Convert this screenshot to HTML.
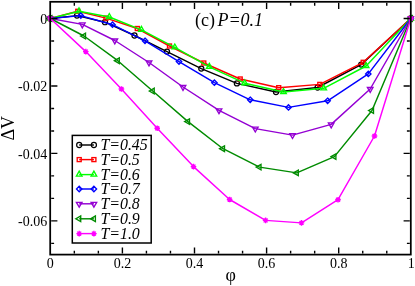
<!DOCTYPE html>
<html><head><meta charset="utf-8"><title>chart</title>
<style>
html,body{margin:0;padding:0;background:#fff;}
body{width:415px;height:286px;overflow:hidden;}
svg{display:block;will-change:transform;}
text{font-family:"Liberation Serif",serif;fill:#000;}
</style></head><body>
<svg width="415" height="286" viewBox="0 0 415 286">
<rect x="0" y="0" width="415" height="286" fill="#ffffff"/>

<path d="M50.30,18.50 L77.00,15.60 L105.00,22.20 L134.50,35.50 L167.00,51.60 L201.30,68.60 L236.90,83.40 L276.00,92.00 L317.60,87.50 L361.20,64.60 L410.80,18.50" fill="none" stroke="#000000" stroke-width="1.45" stroke-linejoin="round"/>
<circle cx="50.30" cy="18.50" r="2.55" fill="none" stroke="#000000" stroke-width="1.2"/>
<circle cx="77.00" cy="15.60" r="2.55" fill="none" stroke="#000000" stroke-width="1.2"/>
<circle cx="105.00" cy="22.20" r="2.55" fill="none" stroke="#000000" stroke-width="1.2"/>
<circle cx="134.50" cy="35.50" r="2.55" fill="none" stroke="#000000" stroke-width="1.2"/>
<circle cx="167.00" cy="51.60" r="2.55" fill="none" stroke="#000000" stroke-width="1.2"/>
<circle cx="201.30" cy="68.60" r="2.55" fill="none" stroke="#000000" stroke-width="1.2"/>
<circle cx="236.90" cy="83.40" r="2.55" fill="none" stroke="#000000" stroke-width="1.2"/>
<circle cx="276.00" cy="92.00" r="2.55" fill="none" stroke="#000000" stroke-width="1.2"/>
<circle cx="317.60" cy="87.50" r="2.55" fill="none" stroke="#000000" stroke-width="1.2"/>
<circle cx="361.20" cy="64.60" r="2.55" fill="none" stroke="#000000" stroke-width="1.2"/>
<circle cx="410.80" cy="18.50" r="2.55" fill="none" stroke="#000000" stroke-width="1.2"/>
<path d="M50.30,18.50 L77.80,11.30 L106.00,18.10 L137.30,28.50 L169.50,46.00 L203.80,63.00 L240.20,79.00 L278.70,87.70 L319.80,84.40 L363.20,62.30 L410.80,18.50" fill="none" stroke="#ff0000" stroke-width="1.45" stroke-linejoin="round"/>
<rect x="48.30" y="16.50" width="4.0" height="4.0" fill="none" stroke="#ff0000" stroke-width="1.35"/>
<rect x="75.80" y="9.30" width="4.0" height="4.0" fill="none" stroke="#ff0000" stroke-width="1.35"/>
<rect x="104.00" y="16.10" width="4.0" height="4.0" fill="none" stroke="#ff0000" stroke-width="1.35"/>
<rect x="135.30" y="26.50" width="4.0" height="4.0" fill="none" stroke="#ff0000" stroke-width="1.35"/>
<rect x="167.50" y="44.00" width="4.0" height="4.0" fill="none" stroke="#ff0000" stroke-width="1.35"/>
<rect x="201.80" y="61.00" width="4.0" height="4.0" fill="none" stroke="#ff0000" stroke-width="1.35"/>
<rect x="238.20" y="77.00" width="4.0" height="4.0" fill="none" stroke="#ff0000" stroke-width="1.35"/>
<rect x="276.70" y="85.70" width="4.0" height="4.0" fill="none" stroke="#ff0000" stroke-width="1.35"/>
<rect x="317.80" y="82.40" width="4.0" height="4.0" fill="none" stroke="#ff0000" stroke-width="1.35"/>
<rect x="361.20" y="60.30" width="4.0" height="4.0" fill="none" stroke="#ff0000" stroke-width="1.35"/>
<rect x="408.80" y="16.50" width="4.0" height="4.0" fill="none" stroke="#ff0000" stroke-width="1.35"/>
<path d="M50.30,18.50 L79.00,11.30 L109.30,17.00 L141.40,29.80 L174.80,47.40 L209.30,66.80 L244.70,83.20 L283.50,92.00 L323.70,88.30 L366.10,66.00 L410.80,18.50" fill="none" stroke="#00ff00" stroke-width="1.45" stroke-linejoin="round"/>
<path d="M50.30,15.10 L53.10,20.00 L47.50,20.00 Z" fill="none" stroke="#00ff00" stroke-width="1.35"/>
<path d="M79.00,7.90 L81.80,12.80 L76.20,12.80 Z" fill="none" stroke="#00ff00" stroke-width="1.35"/>
<path d="M109.30,13.60 L112.10,18.50 L106.50,18.50 Z" fill="none" stroke="#00ff00" stroke-width="1.35"/>
<path d="M141.40,26.40 L144.20,31.30 L138.60,31.30 Z" fill="none" stroke="#00ff00" stroke-width="1.35"/>
<path d="M174.80,44.00 L177.60,48.90 L172.00,48.90 Z" fill="none" stroke="#00ff00" stroke-width="1.35"/>
<path d="M209.30,63.40 L212.10,68.30 L206.50,68.30 Z" fill="none" stroke="#00ff00" stroke-width="1.35"/>
<path d="M244.70,79.80 L247.50,84.70 L241.90,84.70 Z" fill="none" stroke="#00ff00" stroke-width="1.35"/>
<path d="M283.50,88.60 L286.30,93.50 L280.70,93.50 Z" fill="none" stroke="#00ff00" stroke-width="1.35"/>
<path d="M323.70,84.90 L326.50,89.80 L320.90,89.80 Z" fill="none" stroke="#00ff00" stroke-width="1.35"/>
<path d="M366.10,62.60 L368.90,67.50 L363.30,67.50 Z" fill="none" stroke="#00ff00" stroke-width="1.35"/>
<path d="M410.80,15.10 L413.60,20.00 L408.00,20.00 Z" fill="none" stroke="#00ff00" stroke-width="1.35"/>
<path d="M50.30,18.50 L80.80,15.60 L112.50,24.70 L145.00,40.80 L179.00,61.60 L214.40,82.70 L250.20,99.80 L288.50,107.40 L327.60,100.80 L368.30,73.90 L410.80,18.50" fill="none" stroke="#0000ff" stroke-width="1.45" stroke-linejoin="round"/>
<path d="M50.30,15.80 L53.00,18.50 L50.30,21.20 L47.60,18.50 Z" fill="none" stroke="#0000ff" stroke-width="1.35"/>
<path d="M80.80,12.90 L83.50,15.60 L80.80,18.30 L78.10,15.60 Z" fill="none" stroke="#0000ff" stroke-width="1.35"/>
<path d="M112.50,22.00 L115.20,24.70 L112.50,27.40 L109.80,24.70 Z" fill="none" stroke="#0000ff" stroke-width="1.35"/>
<path d="M145.00,38.10 L147.70,40.80 L145.00,43.50 L142.30,40.80 Z" fill="none" stroke="#0000ff" stroke-width="1.35"/>
<path d="M179.00,58.90 L181.70,61.60 L179.00,64.30 L176.30,61.60 Z" fill="none" stroke="#0000ff" stroke-width="1.35"/>
<path d="M214.40,80.00 L217.10,82.70 L214.40,85.40 L211.70,82.70 Z" fill="none" stroke="#0000ff" stroke-width="1.35"/>
<path d="M250.20,97.10 L252.90,99.80 L250.20,102.50 L247.50,99.80 Z" fill="none" stroke="#0000ff" stroke-width="1.35"/>
<path d="M288.50,104.70 L291.20,107.40 L288.50,110.10 L285.80,107.40 Z" fill="none" stroke="#0000ff" stroke-width="1.35"/>
<path d="M327.60,98.10 L330.30,100.80 L327.60,103.50 L324.90,100.80 Z" fill="none" stroke="#0000ff" stroke-width="1.35"/>
<path d="M368.30,71.20 L371.00,73.90 L368.30,76.60 L365.60,73.90 Z" fill="none" stroke="#0000ff" stroke-width="1.35"/>
<path d="M410.80,15.80 L413.50,18.50 L410.80,21.20 L408.10,18.50 Z" fill="none" stroke="#0000ff" stroke-width="1.35"/>
<path d="M50.30,18.50 L82.30,24.40 L114.80,40.50 L149.00,62.50 L183.00,87.00 L219.00,110.30 L255.30,128.60 L292.50,135.10 L331.20,124.40 L370.20,89.00 L410.80,18.50" fill="none" stroke="#9400d3" stroke-width="1.45" stroke-linejoin="round"/>
<path d="M50.30,21.90 L53.10,17.00 L47.50,17.00 Z" fill="none" stroke="#9400d3" stroke-width="1.35"/>
<path d="M82.30,27.80 L85.10,22.90 L79.50,22.90 Z" fill="none" stroke="#9400d3" stroke-width="1.35"/>
<path d="M114.80,43.90 L117.60,39.00 L112.00,39.00 Z" fill="none" stroke="#9400d3" stroke-width="1.35"/>
<path d="M149.00,65.90 L151.80,61.00 L146.20,61.00 Z" fill="none" stroke="#9400d3" stroke-width="1.35"/>
<path d="M183.00,90.40 L185.80,85.50 L180.20,85.50 Z" fill="none" stroke="#9400d3" stroke-width="1.35"/>
<path d="M219.00,113.70 L221.80,108.80 L216.20,108.80 Z" fill="none" stroke="#9400d3" stroke-width="1.35"/>
<path d="M255.30,132.00 L258.10,127.10 L252.50,127.10 Z" fill="none" stroke="#9400d3" stroke-width="1.35"/>
<path d="M292.50,138.50 L295.30,133.60 L289.70,133.60 Z" fill="none" stroke="#9400d3" stroke-width="1.35"/>
<path d="M331.20,127.80 L334.00,122.90 L328.40,122.90 Z" fill="none" stroke="#9400d3" stroke-width="1.35"/>
<path d="M370.20,92.40 L373.00,87.50 L367.40,87.50 Z" fill="none" stroke="#9400d3" stroke-width="1.35"/>
<path d="M410.80,21.90 L413.60,17.00 L408.00,17.00 Z" fill="none" stroke="#9400d3" stroke-width="1.35"/>
<path d="M50.30,18.50 L84.00,36.00 L117.80,60.70 L152.70,91.00 L188.00,121.60 L223.00,148.70 L259.50,167.10 L296.80,172.90 L334.40,156.60 L372.00,110.50 L410.80,18.50" fill="none" stroke="#008b00" stroke-width="1.45" stroke-linejoin="round"/>
<path d="M46.90,18.50 L51.80,15.70 L51.80,21.30 Z" fill="none" stroke="#008b00" stroke-width="1.35"/>
<path d="M80.60,36.00 L85.50,33.20 L85.50,38.80 Z" fill="none" stroke="#008b00" stroke-width="1.35"/>
<path d="M114.40,60.70 L119.30,57.90 L119.30,63.50 Z" fill="none" stroke="#008b00" stroke-width="1.35"/>
<path d="M149.30,91.00 L154.20,88.20 L154.20,93.80 Z" fill="none" stroke="#008b00" stroke-width="1.35"/>
<path d="M184.60,121.60 L189.50,118.80 L189.50,124.40 Z" fill="none" stroke="#008b00" stroke-width="1.35"/>
<path d="M219.60,148.70 L224.50,145.90 L224.50,151.50 Z" fill="none" stroke="#008b00" stroke-width="1.35"/>
<path d="M256.10,167.10 L261.00,164.30 L261.00,169.90 Z" fill="none" stroke="#008b00" stroke-width="1.35"/>
<path d="M293.40,172.90 L298.30,170.10 L298.30,175.70 Z" fill="none" stroke="#008b00" stroke-width="1.35"/>
<path d="M331.00,156.60 L335.90,153.80 L335.90,159.40 Z" fill="none" stroke="#008b00" stroke-width="1.35"/>
<path d="M368.60,110.50 L373.50,107.70 L373.50,113.30 Z" fill="none" stroke="#008b00" stroke-width="1.35"/>
<path d="M407.40,18.50 L412.30,15.70 L412.30,21.30 Z" fill="none" stroke="#008b00" stroke-width="1.35"/>
<path d="M50.30,18.50 L85.80,51.60 L121.40,89.00 L157.20,128.20 L193.50,166.60 L229.60,199.50 L265.60,220.40 L301.50,222.90 L338.00,199.70 L374.50,136.00 L410.80,18.50" fill="none" stroke="#ff00ff" stroke-width="1.45" stroke-linejoin="round"/>
<path d="M47.50,18.50 H53.10 M50.30,15.70 V21.30 M48.32,16.52 L52.28,20.48 M48.32,20.48 L52.28,16.52" fill="none" stroke="#ff00ff" stroke-width="1.4"/>
<path d="M83.00,51.60 H88.60 M85.80,48.80 V54.40 M83.82,49.62 L87.78,53.58 M83.82,53.58 L87.78,49.62" fill="none" stroke="#ff00ff" stroke-width="1.4"/>
<path d="M118.60,89.00 H124.20 M121.40,86.20 V91.80 M119.42,87.02 L123.38,90.98 M119.42,90.98 L123.38,87.02" fill="none" stroke="#ff00ff" stroke-width="1.4"/>
<path d="M154.40,128.20 H160.00 M157.20,125.40 V131.00 M155.22,126.22 L159.18,130.18 M155.22,130.18 L159.18,126.22" fill="none" stroke="#ff00ff" stroke-width="1.4"/>
<path d="M190.70,166.60 H196.30 M193.50,163.80 V169.40 M191.52,164.62 L195.48,168.58 M191.52,168.58 L195.48,164.62" fill="none" stroke="#ff00ff" stroke-width="1.4"/>
<path d="M226.80,199.50 H232.40 M229.60,196.70 V202.30 M227.62,197.52 L231.58,201.48 M227.62,201.48 L231.58,197.52" fill="none" stroke="#ff00ff" stroke-width="1.4"/>
<path d="M262.80,220.40 H268.40 M265.60,217.60 V223.20 M263.62,218.42 L267.58,222.38 M263.62,222.38 L267.58,218.42" fill="none" stroke="#ff00ff" stroke-width="1.4"/>
<path d="M298.70,222.90 H304.30 M301.50,220.10 V225.70 M299.52,220.92 L303.48,224.88 M299.52,224.88 L303.48,220.92" fill="none" stroke="#ff00ff" stroke-width="1.4"/>
<path d="M335.20,199.70 H340.80 M338.00,196.90 V202.50 M336.02,197.72 L339.98,201.68 M336.02,201.68 L339.98,197.72" fill="none" stroke="#ff00ff" stroke-width="1.4"/>
<path d="M371.70,136.00 H377.30 M374.50,133.20 V138.80 M372.52,134.02 L376.48,137.98 M372.52,137.98 L376.48,134.02" fill="none" stroke="#ff00ff" stroke-width="1.4"/>
<path d="M408.00,18.50 H413.60 M410.80,15.70 V21.30 M408.82,16.52 L412.78,20.48 M408.82,20.48 L412.78,16.52" fill="none" stroke="#ff00ff" stroke-width="1.4"/>
<rect x="50.2" y="1.8" width="360.60" height="252.80" fill="none" stroke="#000" stroke-width="1.75"/>
<path d="M74.33,253.6 V250.70 M74.33,2.8 V5.70 M98.37,253.6 V250.70 M98.37,2.8 V5.70 M122.40,253.6 V247.40 M122.40,2.8 V9.00 M146.43,253.6 V250.70 M146.43,2.8 V5.70 M170.47,253.6 V250.70 M170.47,2.8 V5.70 M194.50,253.6 V247.40 M194.50,2.8 V9.00 M218.53,253.6 V250.70 M218.53,2.8 V5.70 M242.57,253.6 V250.70 M242.57,2.8 V5.70 M266.60,253.6 V247.40 M266.60,2.8 V9.00 M290.63,253.6 V250.70 M290.63,2.8 V5.70 M314.67,253.6 V250.70 M314.67,2.8 V5.70 M338.70,253.6 V247.40 M338.70,2.8 V9.00 M362.73,253.6 V250.70 M362.73,2.8 V5.70 M386.77,253.6 V250.70 M386.77,2.8 V5.70 M51.2,18.50 H57.40 M409.8,18.50 H403.60 M51.2,40.99 H54.10 M409.8,40.99 H406.90 M51.2,63.47 H54.10 M409.8,63.47 H406.90 M51.2,85.96 H57.40 M409.8,85.96 H403.60 M51.2,108.45 H54.10 M409.8,108.45 H406.90 M51.2,130.93 H54.10 M409.8,130.93 H406.90 M51.2,153.42 H57.40 M409.8,153.42 H403.60 M51.2,175.91 H54.10 M409.8,175.91 H406.90 M51.2,198.39 H54.10 M409.8,198.39 H406.90 M51.2,220.88 H57.40 M409.8,220.88 H403.60 M51.2,243.37 H54.10 M409.8,243.37 H406.90" fill="none" stroke="#000" stroke-width="1.4"/>
<text x="50.30" y="268.2" font-size="14" text-anchor="middle">0</text>
<text x="122.40" y="268.2" font-size="14" text-anchor="middle">0.2</text>
<text x="194.50" y="268.2" font-size="14" text-anchor="middle">0.4</text>
<text x="266.60" y="268.2" font-size="14" text-anchor="middle">0.6</text>
<text x="338.70" y="268.2" font-size="14" text-anchor="middle">0.8</text>
<text x="411.30" y="268.2" font-size="14" text-anchor="middle">1</text>
<text x="47.2" y="23.65" font-size="14" text-anchor="end">0</text>
<text x="47.2" y="91.11" font-size="14" text-anchor="end">-0.02</text>
<text x="47.2" y="158.57" font-size="14" text-anchor="end">-0.04</text>
<text x="47.2" y="226.03" font-size="14" text-anchor="end">-0.06</text>
<text x="230.8" y="281" font-size="18" text-anchor="middle">φ</text>
<text transform="translate(13.8,128.3) rotate(-90)" font-size="18" text-anchor="middle">ΔV</text>
<text x="195.0" y="25.7" font-size="18">(c)</text>
<text x="217.4" y="25.7" font-size="18" font-style="italic">P=0.1</text>
<rect x="72.3" y="135.4" width="78.9" height="107.6" fill="#fff" stroke="#000" stroke-width="1.5"/>
<path d="M79.2,145.0 H93.9" stroke="#000000" stroke-width="1.45" fill="none"/>
<circle cx="79.20" cy="145.00" r="2.55" fill="none" stroke="#000000" stroke-width="1.2"/>
<circle cx="93.90" cy="145.00" r="2.55" fill="none" stroke="#000000" stroke-width="1.2"/>
<text x="100.4" y="150.20" font-size="15.9" font-style="italic">T=0.45</text>
<path d="M79.2,159.6 H93.9" stroke="#ff0000" stroke-width="1.45" fill="none"/>
<rect x="77.20" y="157.60" width="4.0" height="4.0" fill="none" stroke="#ff0000" stroke-width="1.35"/>
<rect x="91.90" y="157.60" width="4.0" height="4.0" fill="none" stroke="#ff0000" stroke-width="1.35"/>
<text x="100.4" y="164.80" font-size="15.9" font-style="italic">T=0.5</text>
<path d="M79.2,174.6 H93.9" stroke="#00ff00" stroke-width="1.45" fill="none"/>
<path d="M79.20,171.20 L82.00,176.10 L76.40,176.10 Z" fill="none" stroke="#00ff00" stroke-width="1.35"/>
<path d="M93.90,171.20 L96.70,176.10 L91.10,176.10 Z" fill="none" stroke="#00ff00" stroke-width="1.35"/>
<text x="100.4" y="179.80" font-size="15.9" font-style="italic">T=0.6</text>
<path d="M79.2,189.0 H93.9" stroke="#0000ff" stroke-width="1.45" fill="none"/>
<path d="M79.20,186.30 L81.90,189.00 L79.20,191.70 L76.50,189.00 Z" fill="none" stroke="#0000ff" stroke-width="1.35"/>
<path d="M93.90,186.30 L96.60,189.00 L93.90,191.70 L91.20,189.00 Z" fill="none" stroke="#0000ff" stroke-width="1.35"/>
<text x="100.4" y="194.20" font-size="15.9" font-style="italic">T=0.7</text>
<path d="M79.2,203.8 H93.9" stroke="#9400d3" stroke-width="1.45" fill="none"/>
<path d="M79.20,207.20 L82.00,202.30 L76.40,202.30 Z" fill="none" stroke="#9400d3" stroke-width="1.35"/>
<path d="M93.90,207.20 L96.70,202.30 L91.10,202.30 Z" fill="none" stroke="#9400d3" stroke-width="1.35"/>
<text x="100.4" y="209.00" font-size="15.9" font-style="italic">T=0.8</text>
<path d="M79.2,218.8 H93.9" stroke="#008b00" stroke-width="1.45" fill="none"/>
<path d="M75.80,218.80 L80.70,216.00 L80.70,221.60 Z" fill="none" stroke="#008b00" stroke-width="1.35"/>
<path d="M90.50,218.80 L95.40,216.00 L95.40,221.60 Z" fill="none" stroke="#008b00" stroke-width="1.35"/>
<text x="100.4" y="224.00" font-size="15.9" font-style="italic">T=0.9</text>
<path d="M79.2,233.6 H93.9" stroke="#ff00ff" stroke-width="1.45" fill="none"/>
<path d="M76.40,233.60 H82.00 M79.20,230.80 V236.40 M77.22,231.62 L81.18,235.58 M77.22,235.58 L81.18,231.62" fill="none" stroke="#ff00ff" stroke-width="1.4"/>
<path d="M91.10,233.60 H96.70 M93.90,230.80 V236.40 M91.92,231.62 L95.88,235.58 M91.92,235.58 L95.88,231.62" fill="none" stroke="#ff00ff" stroke-width="1.4"/>
<text x="100.4" y="238.80" font-size="15.9" font-style="italic">T=1.0</text>
</svg></body></html>
